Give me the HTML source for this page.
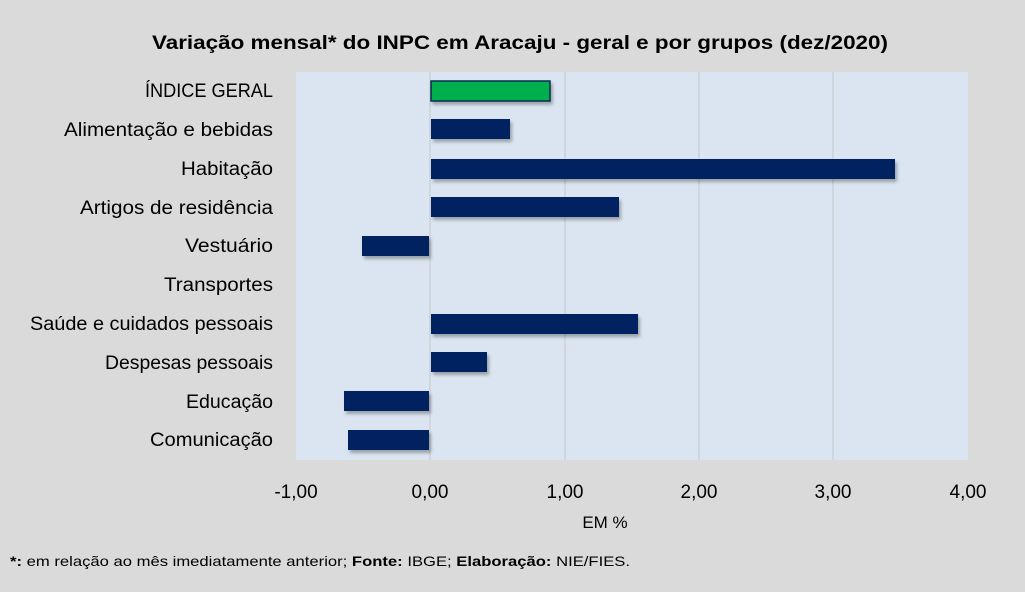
<!DOCTYPE html>
<html><head><meta charset="utf-8"><style>
body{margin:0;background:#dadada;}
svg{display:block;font-family:"Liberation Sans",sans-serif;}
</style></head><body>
<svg width="1025" height="592" viewBox="0 0 1025 592" xmlns="http://www.w3.org/2000/svg">
<defs><filter id="sh" x="-5%" y="-20%" width="115%" height="160%"><feDropShadow dx="2" dy="3" stdDeviation="1.5" flood-color="#000" flood-opacity="0.3"/></filter></defs>
<rect width="1025" height="592" fill="#dadada"/>
<text x="520" y="49" text-anchor="middle" font-size="19" font-weight="bold" fill="#000" textLength="736" lengthAdjust="spacingAndGlyphs">Variação  mensal*  do INPC em Aracaju  - geral e por grupos (dez/2020)</text>
<rect x="296" y="72" width="672" height="388" fill="#dbe5f1"/>
<g stroke="#c8ccd2" stroke-width="1.2">
<line x1="430" y1="72" x2="430" y2="460"/>
<line x1="565" y1="72" x2="565" y2="460"/>
<line x1="699" y1="72" x2="699" y2="460"/>
<line x1="833" y1="72" x2="833" y2="460"/>
</g>
<g filter="url(#sh)">
<rect x="431" y="81" width="119" height="20" fill="#00b050" stroke="#0d2b4e" stroke-width="1.5"/>
<rect x="431" y="119" width="79" height="20" fill="#002060"/>
<rect x="431" y="159" width="464" height="20" fill="#002060"/>
<rect x="431" y="197" width="188" height="20" fill="#002060"/>
<rect x="362" y="236" width="67" height="20" fill="#002060"/>
<rect x="431" y="314" width="207" height="20" fill="#002060"/>
<rect x="431" y="352" width="56" height="20" fill="#002060"/>
<rect x="344" y="391" width="85" height="20" fill="#002060"/>
<rect x="348" y="430" width="81" height="20" fill="#002060"/>
</g>
<g font-size="19" fill="#000" text-anchor="end">
<text x="273" y="97" textLength="128" lengthAdjust="spacingAndGlyphs">ÍNDICE GERAL</text>
<text x="273" y="136" textLength="209" lengthAdjust="spacingAndGlyphs">Alimentação e bebidas</text>
<text x="273" y="175" textLength="92" lengthAdjust="spacingAndGlyphs">Habitação</text>
<text x="273" y="214" textLength="193" lengthAdjust="spacingAndGlyphs">Artigos de residência</text>
<text x="273" y="252" textLength="88" lengthAdjust="spacingAndGlyphs">Vestuário</text>
<text x="273" y="291" textLength="109" lengthAdjust="spacingAndGlyphs">Transportes</text>
<text x="273" y="330" textLength="243" lengthAdjust="spacingAndGlyphs">Saúde e cuidados pessoais</text>
<text x="273" y="369" textLength="168" lengthAdjust="spacingAndGlyphs">Despesas pessoais</text>
<text x="273" y="408" textLength="87" lengthAdjust="spacingAndGlyphs">Educação</text>
<text x="273" y="446" textLength="123" lengthAdjust="spacingAndGlyphs">Comunicação</text>
</g>
<g font-size="19" fill="#000" text-anchor="middle">
<text x="296" y="498">-1,00</text>
<text x="430" y="498">0,00</text>
<text x="565" y="498">1,00</text>
<text x="699" y="498">2,00</text>
<text x="833" y="498">3,00</text>
<text x="968" y="498">4,00</text>
</g>
<text x="605" y="528" font-size="17" text-anchor="middle">EM %</text>
<text x="10" y="566" font-size="14" textLength="620" lengthAdjust="spacingAndGlyphs"><tspan font-weight="bold">*:</tspan> em relação ao mês imediatamente  anterior; <tspan font-weight="bold">Fonte:</tspan> IBGE; <tspan font-weight="bold">Elaboração:</tspan> NIE/FIES.</text>
</svg>
</body></html>
